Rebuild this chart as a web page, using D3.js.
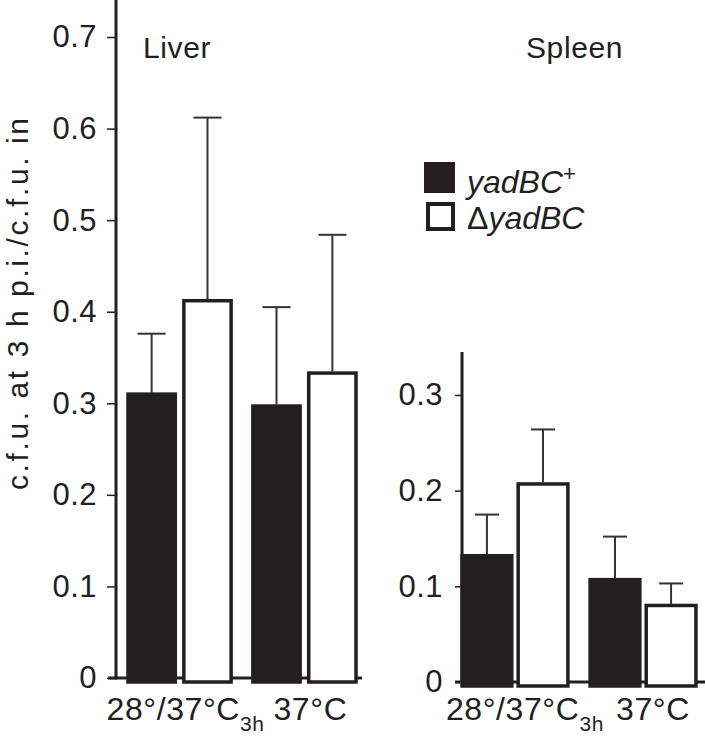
<!DOCTYPE html>
<html>
<head>
<meta charset="utf-8">
<script src="https://cdn.jsdelivr.net/npm/d3@7"></script>
<style>
  body { margin: 0; background: #fff; }
  text { font-family: "Liberation Sans", Arial, Helvetica, sans-serif; fill: #231f20; }
</style>
</head>
<body>
<svg width="705" height="740"></svg>
<script>
// groups on the x axis (main text + subscript)
var groups = ["28°/37°C", "37°C"];
var groupSubs = ["3h", ""];
var series = ["yadBC+", "ΔyadBC"];

// liver values (mean, error)
var liverWT = [0.31, 0.297];
var liverWTErr = [0.066, 0.108];
var liverDelta = [0.412, 0.333];
var liverDeltaErr = [0.2, 0.151];

// spleen values
var spleenWT = [0.132, 0.107];
var spleenWTErr = [0.043, 0.045];
var spleenDelta = [0.207, 0.080];
var spleenDeltaErr = [0.057, 0.023];

var liverTicks = [0, 0.1, 0.2, 0.3, 0.4, 0.5, 0.6, 0.7];
var spleenTicks = [0, 0.1, 0.2, 0.3];

var dark = "#231f20";
var svg = d3.select("svg");

function toRows(wt, wtErr, del, delErr) {
  var rows = [];
  groups.forEach(function(g, i) {
    rows.push({group: g, series: series[0], value: wt[i], err: wtErr[i]});
    rows.push({group: g, series: series[1], value: del[i], err: delErr[i]});
  });
  return rows;
}

function drawPanel(opt) {
  var y = d3.scaleLinear().domain(opt.domain).range(opt.yRange);
  var x0 = d3.scaleBand().domain(groups).range(opt.xRange).paddingInner(0.15).paddingOuter(0.02);
  var x1 = d3.scaleBand().domain(series).range([0, x0.bandwidth()]).paddingInner(opt.inner);

  var g = svg.append("g");

  // x baseline
  g.append("line")
    .attr("x1", opt.baseFrom).attr("x2", opt.baseTo)
    .attr("y1", y(0)).attr("y2", y(0))
    .attr("stroke", dark).attr("stroke-width", 3);

  // bars
  var bars = g.selectAll(".bar").data(opt.rows).enter().append("g");
  bars.append("rect")
    .attr("x", function(d) { return x0(d.group) + x1(d.series) + 1.5; })
    .attr("y", function(d) { return y(d.value); })
    .attr("width", x1.bandwidth() - 3)
    .attr("height", function(d) { return y(0) + 4 - y(d.value); })
    .attr("fill", function(d) { return d.series == series[0] ? dark : "#fff"; })
    .attr("stroke", dark)
    .attr("stroke-width", 3.5);

  // error bars (upper only)
  bars.append("line")
    .attr("x1", function(d) { return x0(d.group) + x1(d.series) + x1.bandwidth() / 2; })
    .attr("x2", function(d) { return x0(d.group) + x1(d.series) + x1.bandwidth() / 2; })
    .attr("y1", function(d) { return y(d.value) - 1.5; })
    .attr("y2", function(d) { return y(d.value + d.err); })
    .attr("stroke", "#333").attr("stroke-width", 2);
  bars.append("line")
    .attr("x1", function(d) { return x0(d.group) + x1(d.series) + x1.bandwidth() / 2 - opt.cap; })
    .attr("x2", function(d) { return x0(d.group) + x1(d.series) + x1.bandwidth() / 2 + opt.cap; })
    .attr("y1", function(d) { return y(d.value + d.err); })
    .attr("y2", function(d) { return y(d.value + d.err); })
    .attr("stroke", "#333").attr("stroke-width", 2);

  // y axis
  var axis = g.append("g")
    .attr("transform", "translate(" + opt.axisX + ",0)")
    .call(d3.axisLeft(y).tickValues(opt.ticks).tickSize(opt.tickLen).tickPadding(opt.tickPad)
      .tickFormat(function(d) { return d == 0 ? "0" : d3.format(".1f")(d); }));
  axis.select(".domain").remove();
  axis.selectAll(".tick line").attr("stroke", dark).attr("stroke-width", 1.5);
  axis.selectAll(".tick text").attr("font-size", 31).attr("fill", dark)
    .attr("letter-spacing", 0.5)
    .style("font-family", "'Liberation Sans', Arial, sans-serif");
  g.append("line")
    .attr("x1", opt.axisX).attr("x2", opt.axisX)
    .attr("y1", opt.axisTop).attr("y2", y(0) + 1.5)
    .attr("stroke", dark).attr("stroke-width", 3);

  // group labels
  var lab = g.selectAll(".glab").data(groups).enter().append("text")
    .attr("x", function(d) { return x0(d) + x0.bandwidth() / 2 + opt.labShift; })
    .attr("y", 720)
    .attr("text-anchor", "middle")
    .attr("font-size", 32)
    .attr("letter-spacing", 0.6);
  lab.append("tspan").text(function(d) { return d; });
  lab.append("tspan")
    .attr("font-size", 21).attr("dy", 11)
    .text(function(d, i) { return groupSubs[i]; });

  g.append("text")
    .attr("x", opt.titleX).attr("y", 58)
    .attr("font-size", 30).attr("letter-spacing", 0.6)
    .text(opt.title);
}

drawPanel({
  rows: toRows(liverWT, liverWTErr, liverDelta, liverDeltaErr),
  domain: [0, 0.7], yRange: [678, 37],
  xRange: [124, 360], inner: 0.1,
  ticks: liverTicks, axisX: 116, axisTop: 0,
  tickLen: 9, tickPad: 10, cap: 14,
  baseFrom: 108, baseTo: 362, labShift: 6,
  title: "Liver", titleX: 143
});

drawPanel({
  rows: toRows(spleenWT, spleenWTErr, spleenDelta, spleenDeltaErr),
  domain: [0, 0.3], yRange: [682, 395],
  xRange: [458, 700], inner: 0.06,
  ticks: spleenTicks, axisX: 462, axisTop: 352,
  tickLen: 7, tickPad: 12, cap: 12,
  baseFrom: 455, baseTo: 705, labShift: 10,
  title: "Spleen", titleX: 526
});

// y axis title
svg.append("text")
  .attr("transform", "translate(28,304) rotate(-90)")
  .attr("text-anchor", "middle")
  .attr("font-size", 30)
  .attr("textLength", 372)
  .attr("lengthAdjust", "spacing")
  .text("c.f.u. at 3 h p.i./c.f.u. in");

// legend
var legend = svg.append("g");
legend.append("rect").attr("x", 424).attr("y", 162).attr("width", 31).attr("height", 31)
  .attr("fill", dark);
legend.append("rect").attr("x", 428).attr("y", 204).attr("width", 25).attr("height", 25)
  .attr("fill", "#fff").attr("stroke", dark).attr("stroke-width", 4);
var t1 = legend.append("text").attr("x", 467).attr("y", 193)
  .attr("font-size", 32).attr("font-style", "italic");
t1.append("tspan").text("yadBC");
t1.append("tspan").attr("font-size", 22).attr("font-style", "normal").attr("dy", -12).text("+");
var t2 = legend.append("text").attr("x", 467).attr("y", 229)
  .attr("font-size", 32);
t2.append("tspan").text(series[1].slice(0, 1));
t2.append("tspan").attr("font-style", "italic").text(series[1].slice(1));
</script>
</body>
</html>
